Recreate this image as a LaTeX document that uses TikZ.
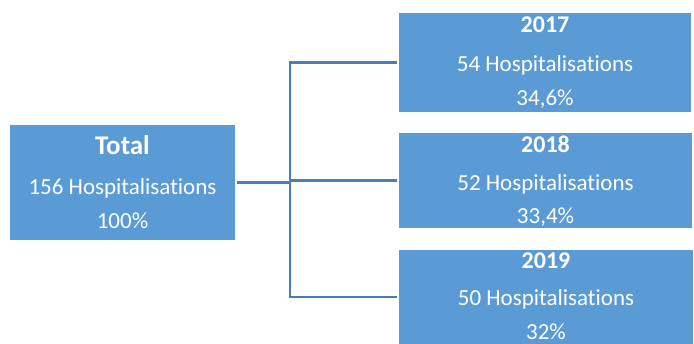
\documentclass[tikz,border=0pt]{standalone}
\usepackage{fontspec}
\setmainfont[RawFeature={-liga;-clig;-calt;-dlig}]{Carlito}
\definecolor{boxblue}{HTML}{5B9BD5}
\definecolor{lineblue}{HTML}{4A7EBB}
\begin{document}
\begin{tikzpicture}[x=1pt,y=1pt,
  box/.style={fill=boxblue,draw=none,inner sep=0pt,outer sep=0pt},
  txt/.style={text=white,anchor=base,inner sep=0pt,font=\fontsize{23}{23}\selectfont},
  title/.style={text=white,anchor=base,inner sep=0pt,font=\bfseries\fontsize{24}{24}\selectfont},
  conn/.style={draw=lineblue,line width=2.5pt}]
\useasboundingbox (0,0) rectangle (694,343);
% boxes
\node[box,minimum width=225,minimum height=115] (total) at (122.5,160.5) {};
\node[box,minimum width=292,minimum height=99] (b17) at (545,280.5) {};
\node[box,minimum width=293,minimum height=95] (b18) at (545.5,162.5) {};
\node[box,minimum width=294,minimum height=94] (b19) at (546,46) {};
% texts
\node[title,font=\bfseries\fontsize{27}{27}\selectfont] (t0) at (122.5,188) {Total};
\node[txt] (t1) at (122.5,148) {156 Hospitalisations};
\node[txt] (t2) at (122.5,114) {100\%};
\node[title] (a0) at (545,310) {2017};
\node[txt] (a1) at (545,271) {54 Hospitalisations};
\node[txt] (a2) at (545,237) {34,6\%};
\node[title] (c0) at (545.5,190) {2018};
\node[txt] (c1) at (545.5,152) {52 Hospitalisations};
\node[txt] (c2) at (545.5,119) {33,4\%};
\node[title] (d0) at (546,74) {2019};
\node[txt] (d1) at (546,37) {50 Hospitalisations};
\node[txt] (d2) at (546,3) {32\%};
% connectors
\coordinate (j) at (290,160.5);
\draw[conn,shorten <=2pt] (total.east) -- (j);
\draw[conn,shorten <=2pt,shorten >=2pt] (b17.west) -- (b17.west -| j) -- (b19.west -| j) -- (b19.west);
\draw[conn,shorten >=2pt] (j |- b18.west) -- (b18.west);
\end{tikzpicture}
\end{document}
